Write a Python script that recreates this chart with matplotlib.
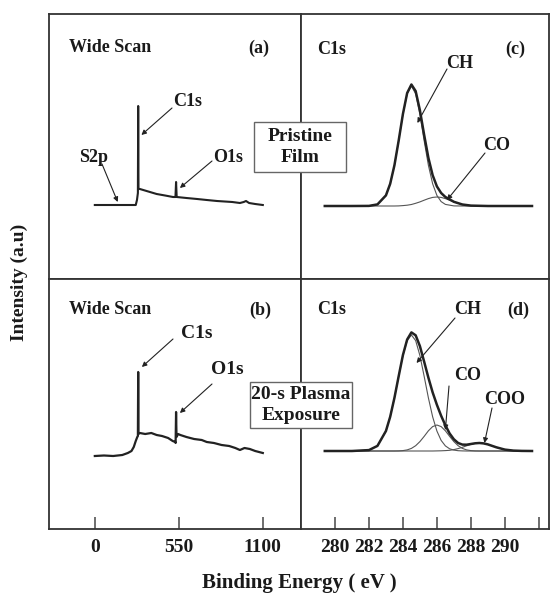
import matplotlib
matplotlib.use("Agg")
import matplotlib.pyplot as plt
from matplotlib.patches import Rectangle

# ---------------- data ----------------
# (a) wide scan, pristine film
wide_energy_a = [0, 100, 200, 255, 268, 276, 282, 284, 286, 295, 350, 405, 460, 512, 528, 532, 536,
                 600, 670, 733, 800, 850, 900, 950, 975, 990, 1010, 1050, 1100]
wide_int_a = [74, 74, 74, 74, 74, 79, 86, 173, 90, 90, 87.5, 85, 83.5, 82, 82, 97, 82,
              81, 80, 79, 78, 77.5, 77, 76, 77, 78, 76, 75, 74]

# (b) wide scan, 20-s plasma exposure
wide_energy_b = [0, 60, 120, 180, 216, 240, 255, 268, 278, 282, 284, 286, 295, 330, 370, 405, 440,
                 480, 510, 526, 529, 532, 535, 545, 560, 600, 650, 700, 733, 780, 830, 880, 920,
                 950, 980, 1015, 1050, 1100]
wide_int_b = [73, 73.5, 73, 74, 76, 78, 82, 88, 92, 93, 157, 95, 96, 95, 96, 94, 93,
              91, 88, 87, 86, 117, 92, 95, 94, 92, 90, 89, 87, 86, 84, 83, 81,
              79, 81, 80, 78, 76]

# (c) C1s, pristine film
c1s_energy_c = [279.4, 280, 281, 282, 282.5, 283, 283.25, 283.5, 283.75, 284, 284.25, 284.5, 284.75,
                285, 285.25, 285.5, 285.75, 286, 286.25, 286.5, 287, 287.5, 288, 289, 290, 291, 291.6]
c1s_env_c = [73, 73, 73, 73.1, 74.6, 83.6, 95.2, 113.7, 138.4, 165.0, 186.0, 194.5, 187.9,
             168.7, 144.1, 121.1, 103.8, 92.6, 86.0, 82.0, 77.2, 74.5, 73.4, 73, 73, 73, 73]
c1s_ch_c = [73, 73, 73, 73.1, 74.6, 83.6, 95.2, 113.7, 138.3, 164.6, 185.2, 193, 185.2,
            164.6, 138.3, 113.7, 95.2, 83.6, 77.4, 74.6, 73.1, 73, 73, 73, 73, 73, 73]
c1s_co_c = [73, 73, 73, 73, 73, 73, 73, 73, 73.1, 73.4, 73.8, 74.5, 75.7,
            77.1, 78.8, 80.4, 81.6, 82, 81.6, 80.4, 77.1, 74.5, 73.4, 73, 73, 73, 73]

# (d) C1s, 20-s plasma exposure
c1s_energy_d = [279.4, 280, 281, 282, 282.5, 283, 283.25, 283.5, 283.75, 284, 284.25, 284.5, 284.75,
                285, 285.25, 285.5, 285.75, 286, 286.25, 286.5, 286.75, 287, 287.25, 287.5, 287.75,
                288, 288.25, 288.5, 288.75, 289, 289.5, 290, 290.5, 291, 291.6]
c1s_env_d = [78, 78, 78, 78.9, 83.1, 98.0, 112.2, 131.1, 152.8, 173.9, 189.5, 196.6, 193.7,
             182.9, 167.3, 151.3, 136.6, 124.2, 113.2, 103.7, 95.5, 89.7, 86.0, 84.4, 84.3,
             85.0, 85.7, 86.0, 85.6, 84.6, 81.7, 79.4, 78.4, 78.1, 78]
c1s_ch_d = [78, 78, 78, 78.9, 83.1, 98.0, 112.2, 131.1, 152.7, 173.5, 188.4, 194, 188.4,
            173.5, 152.7, 131.1, 112.2, 98.0, 88.6, 83.1, 80.2, 78.9, 78.3, 78.1, 78,
            78, 78, 78, 78, 78, 78, 78, 78, 78, 78]
c1s_co_d = [78, 78, 78, 78, 78, 78, 78, 78, 78.1, 78.4, 79.1, 80.6, 83.3,
            87.4, 92.6, 98.2, 102.4, 104, 102.4, 98.2, 92.6, 87.4, 83.3, 80.6, 79.1,
            78.4, 78.1, 78, 78, 78, 78, 78, 78, 78, 78]
c1s_coo_d = [78, 78, 78, 78, 78, 78, 78, 78, 78, 78, 78, 78, 78,
             78, 78, 78, 78, 78.1, 78.2, 78.4, 78.7, 79.4, 80.4, 81.7, 83.2,
             84.6, 85.6, 86, 85.6, 84.6, 81.7, 79.4, 78.4, 78.1, 78]

wide_ticks = [0, 550, 1100]
c1s_ticks = [280, 282, 284, 286, 288, 290, 292]
c1s_ticklabels = ["280", "282", "284", "286", "288", "290", ""]

# ---------------- figure ----------------
plt.rcParams['font.family'] = ['Liberation Serif', 'DejaVu Serif']
plt.rcParams['font.weight'] = 'bold'
W, H = 552, 597
fig = plt.figure(figsize=(W / 100, H / 100), dpi=100)
fig.patch.set_facecolor('white')

def fx(x):
    return x / W

def fy(y):
    return 1 - y / H

L, M, R = fx(49), fx(301), fx(549)
T, MID, B = fy(14), fy(279), fy(529)

ax_a = fig.add_axes([L, MID, M - L, T - MID])
ax_c = fig.add_axes([M, MID, R - M, T - MID])
ax_b = fig.add_axes([L, B, M - L, MID - B])
ax_d = fig.add_axes([M, B, R - M, MID - B])

TXT = '#1a1a1a'
for ax in (ax_a, ax_b):
    ax.set_xlim(-300, 1350)
for ax in (ax_c, ax_d):
    ax.set_xlim(278.0, 292.6)
for ax in (ax_a, ax_c):
    ax.set_ylim(0, 265)
for ax in (ax_b, ax_d):
    ax.set_ylim(0, 250)

for ax in (ax_a, ax_b, ax_c, ax_d):
    for s in ax.spines.values():
        s.set_linewidth(1.3)
        s.set_color('#333333')
    ax.set_yticks([])
    ax.tick_params(axis='x', direction='in', length=9, width=1.2, color='#555555',
                   labelsize=14, pad=7, labelcolor=TXT, top=False)

ax_a.set_xticks([])
ax_c.set_xticks([])
ax_b.set_xticks(wide_ticks)
ax_b.set_xticklabels([str(t) for t in wide_ticks])
ax_d.set_xticks(c1s_ticks)
ax_d.set_xticklabels(c1s_ticklabels)

# spectra
ax_a.plot(wide_energy_a, wide_int_a, color='#222222', lw=1.5)
ax_b.plot(wide_energy_b, wide_int_b, color='#222222', lw=1.6)

comp_kw = dict(color='#555555', lw=0.8)
ax_c.plot(c1s_energy_c, c1s_ch_c, **comp_kw)
ax_c.plot(c1s_energy_c, c1s_co_c, **comp_kw)
ax_c.plot(c1s_energy_c, c1s_env_c, color='#222222', lw=1.8)

ax_d.plot(c1s_energy_d, c1s_ch_d, **comp_kw)
ax_d.plot(c1s_energy_d, c1s_co_d, **comp_kw)
ax_d.plot(c1s_energy_d, c1s_coo_d, **comp_kw)
ax_d.plot(c1s_energy_d, c1s_env_d, color='#222222', lw=1.8)

# panel titles
def ftext(x, y, s, size=13, **kw):
    fig.text(fx(x), fy(y), s, fontsize=size, color=TXT, ha='center', va='center',
             fontweight='bold', **kw)

ftext(110, 48, "Wide Scan")
ftext(259, 48, "(a)")
ftext(332, 49, "C1s")
ftext(515, 49, "(c)")
ftext(110, 310, "Wide Scan")
ftext(260, 310, "(b)")
ftext(332, 310, "C1s")
ftext(518, 310, "(d)")

# annotations with arrows
arrow_kw = dict(arrowstyle='-|>', lw=0.8, color='#222222', mutation_scale=7,
                shrinkA=0, shrinkB=0)

def annot(ax, label, txt_xy, tail_xy, head, size=13):
    ftext(txt_xy[0], txt_xy[1], label, size=size)
    ax.annotate("", xy=head, xycoords='data',
                xytext=(fx(tail_xy[0]), fy(tail_xy[1])), textcoords='figure fraction',
                arrowprops=arrow_kw)

annot(ax_a, "C1s", (188, 101), (172, 108), (305, 144))
annot(ax_a, "S2p", (94, 157), (102, 164), (150, 77))
annot(ax_a, "O1s", (228, 158), (212, 161), (557, 91))
annot(ax_c, "CH", (460, 63), (447, 69), (284.85, 156))
annot(ax_c, "CO", (497, 146), (485, 153), (286.6, 79))
annot(ax_b, "C1s", (197, 333), (173, 339), (308, 162), size=14)
annot(ax_b, "O1s", (227, 369), (212, 384), (557, 116), size=14)
annot(ax_d, "CH", (468, 310), (455, 318), (284.8, 166))
annot(ax_d, "CO", (468, 376), (449, 386), (286.5, 99))
annot(ax_d, "COO", (505, 400), (492, 408), (288.8, 86))

# boxed labels straddling the divider
def boxlabel(x0, y0, x1, y1, s):
    rect = Rectangle((fx(x0), fy(y1)), fx(x1) - fx(x0), fy(y0) - fy(y1),
                     transform=fig.transFigure, facecolor='white', edgecolor='#666666',
                     lw=1.0, zorder=5)
    fig.patches.append(rect)
    fig.text(fx((x0 + x1) / 2), fy((y0 + y1) / 2), s, fontsize=14, color=TXT,
             ha='center', va='center', fontweight='bold', linespacing=1.35, zorder=6)

boxlabel(254, 122, 346, 172, "Pristine\nFilm")
boxlabel(250, 382, 352, 428, "20-s Plasma\nExposure")

# axis labels
fig.text((L + R) / 2, fy(583), "Binding Energy ( eV )", fontsize=15, color=TXT,
         ha='center', va='center', fontweight='bold')
fig.text(fx(19), fy(282), "Intensity (a.u)", fontsize=14, color=TXT, rotation=90,
         ha='center', va='center', fontweight='bold')

fig.savefig("out.png", dpi=100, facecolor='white')
